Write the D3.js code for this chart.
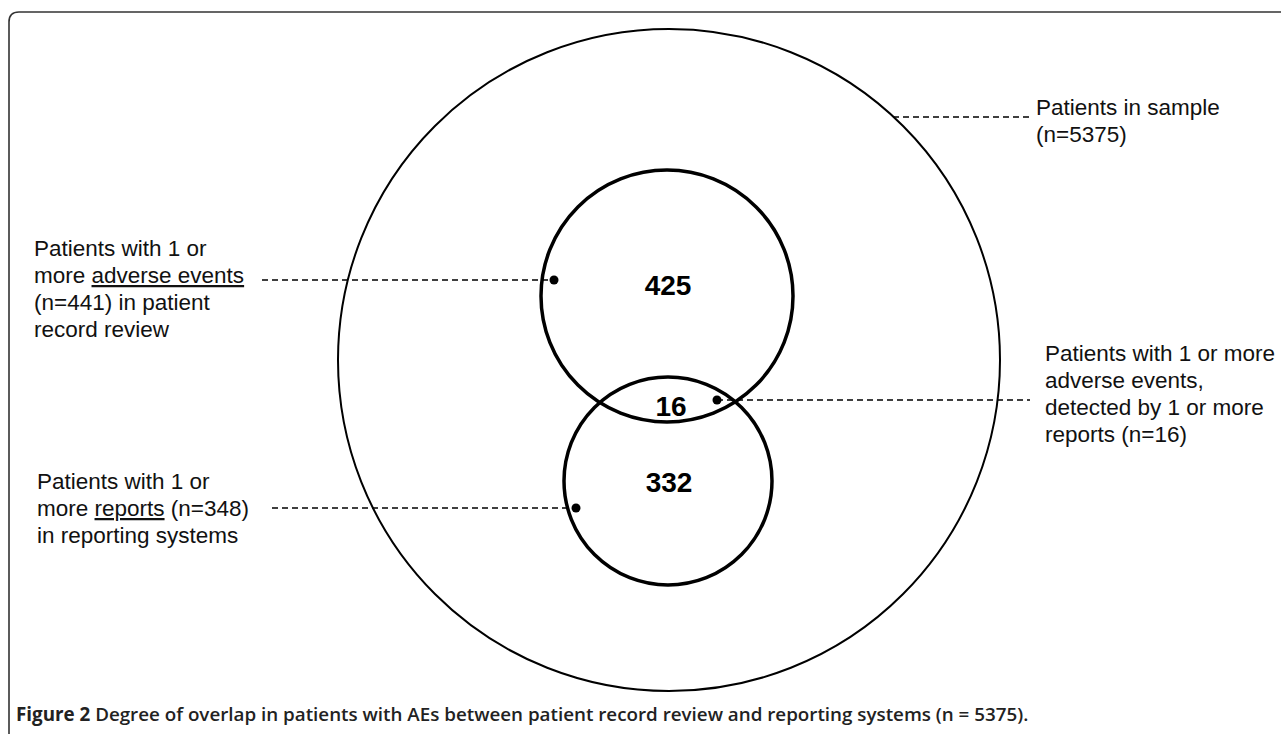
<!DOCTYPE html>
<html>
<head>
<meta charset="utf-8">
<script src="https://cdn.jsdelivr.net/npm/d3@7"></script>
<style>
  html, body { margin: 0; padding: 0; background: #fff; }
  svg { display: block; }
</style>
</head>
<body>
<div id="chart"></div>
<script>
// ---- data ----
const setNames = ["Patients in sample", "Adverse events (record review)", "Reports (reporting systems)"];
const setCounts = [5375, 441, 348];
const regionNames = ["record review only", "both", "reports only"];
const regionCounts = [425, 16, 332];
const captionBold = "Figure 2";
const captionText = " Degree of overlap in patients with AEs between patient record review and reporting systems (n = 5375).";

// ---- layout (unit space -> pixels via scales) ----
const W = 1281, H = 734;
const x = d3.scaleLinear().domain([0, 1]).range([0, W]);
const y = d3.scaleLinear().domain([0, 1]).range([0, H]);
const rS = d3.scaleLinear().domain([0, 1]).range([0, W]);

const circleLayout = [
  {cx: 669 / W, cy: 360 / H, r: 331 / W, sw: 2},
  {cx: 667 / W, cy: 296 / H, r: 126 / W, sw: 3.5},
  {cx: 668 / W, cy: 481 / H, r: 104 / W, sw: 3.5}
];

const svg = d3.select("#chart").append("svg")
  .attr("width", W).attr("height", H);

const FONT = "'Liberation Sans', Arial, Helvetica, sans-serif";

// frame
svg.append("path")
  .attr("d", "M9,740 V22 Q9,12 19,12 H1300")
  .attr("fill", "none").attr("stroke", "#333").attr("stroke-width", 1.6);

// circles
svg.selectAll("circle.set").data(setCounts).join("circle")
  .attr("class", "set")
  .attr("cx", (d, i) => x(circleLayout[i].cx))
  .attr("cy", (d, i) => y(circleLayout[i].cy))
  .attr("r", (d, i) => rS(circleLayout[i].r))
  .attr("fill", "none").attr("stroke", "#000")
  .attr("stroke-width", (d, i) => circleLayout[i].sw);

// region counts
const regionPos = [[668, 295], [671, 416], [669, 492]];
svg.selectAll("text.count").data(regionCounts).join("text")
  .attr("class", "count")
  .attr("x", (d, i) => regionPos[i][0])
  .attr("y", (d, i) => regionPos[i][1])
  .attr("text-anchor", "middle")
  .attr("font-family", FONT)
  .attr("font-weight", "bold").attr("font-size", 28)
  .attr("fill", "#000")
  .text(d => d);

// leader lines
const leaders = [
  {x1: 893, x2: 1030, y: 117, dot: null},
  {x1: 262, x2: 554, y: 280, dot: 554},
  {x1: 717, x2: 1030, y: 400, dot: 717},
  {x1: 272, x2: 576, y: 508, dot: 576}
];
svg.selectAll("line.leader").data(leaders).join("line")
  .attr("class", "leader")
  .attr("x1", d => d.x1).attr("x2", d => d.x2)
  .attr("y1", d => d.y).attr("y2", d => d.y)
  .attr("stroke", "#000").attr("stroke-width", 1.4)
  .attr("stroke-dasharray", "6,4");
svg.selectAll("circle.dot").data(leaders.filter(d => d.dot !== null)).join("circle")
  .attr("class", "dot")
  .attr("cx", d => d.dot).attr("cy", d => d.y).attr("r", 4.5)
  .attr("fill", "#000");

// labels
const labels = [
  {x: 1036, y: 115, lines: [[["Patients in sample", false]], [["(n=" + setCounts[0] + ")", false]]]},
  {x: 34, y: 256, lines: [
    [["Patients with 1 or", false]],
    [["more ", false], ["adverse events", true]],
    [["(n=" + setCounts[1] + ") in patient", false]],
    [["record review", false]]]},
  {x: 1045, y: 361, lines: [
    [["Patients with 1 or more", false]],
    [["adverse events,", false]],
    [["detected by 1 or more", false]],
    [["reports (n=" + regionCounts[1] + ")", false]]]},
  {x: 37, y: 489, lines: [
    [["Patients with 1 or", false]],
    [["more ", false], ["reports", true], [" (n=" + setCounts[2] + ")", false]],
    [["in reporting systems", false]]]}
];
labels.forEach(lb => {
  const t = svg.append("text")
    .attr("font-family", FONT)
    .attr("font-size", 22.5).attr("fill", "#111");
  lb.lines.forEach((segs, li) => {
    segs.forEach((s, si) => {
      const ts = t.append("tspan").text(s[0]);
      if (si === 0) ts.attr("x", lb.x).attr("y", lb.y + li * 27);
      if (s[1]) ts.attr("text-decoration", "underline");
    });
  });
});

// caption
const cap = svg.append("text")
  .attr("x", 16).attr("y", 721)
  .attr("font-family", "'Open Sans', 'Noto Sans', sans-serif")
  .attr("font-size", 18.8).attr("fill", "#222");
cap.append("tspan").attr("font-weight", "bold").text(captionBold);
cap.append("tspan").attr("font-weight", "600").text(captionText);
</script>
</body>
</html>
